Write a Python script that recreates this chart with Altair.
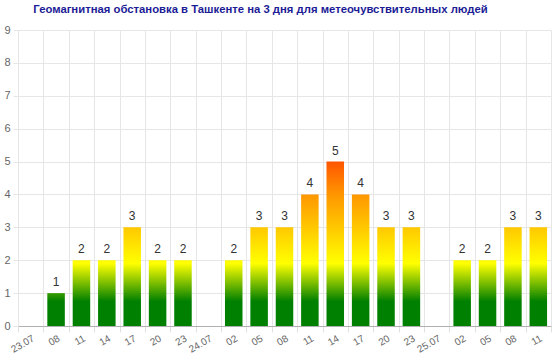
import altair as alt
import pandas as pd

labels = ["23.07", "08", "11", "14", "17", "20", "23", "24.07", "02", "05", "08",
          "11", "14", "17", "20", "23", "25.07", "02", "05", "08", "11"]
values = [0, 1, 2, 2, 3, 2, 2, 0, 2, 3, 3, 4, 5, 4, 3, 3, 0, 2, 2, 3, 3]

title_text = "Геомагнитная обстановка в Ташкенте на 3 дня для метеочувствительных людей"

# absolute colour ramp (level -> colour)
ramp = [(0.0, "#008000"), (0.75, "#008000"), (1.9, "#ffff00"),
        (3.0, "#ffc800"), (4.0, "#ff9600"), (5.0, "#ff5500")]


def hex2rgb(h):
    return tuple(int(h[i:i + 2], 16) for i in (1, 3, 5))


def rgb2hex(c):
    return "#%02x%02x%02x" % tuple(int(round(v)) for v in c)


def color_at(level):
    for (l0, c0), (l1, c1) in zip(ramp[:-1], ramp[1:]):
        if l0 <= level <= l1:
            t = 0 if l1 == l0 else (level - l0) / (l1 - l0)
            a, b = hex2rgb(c0), hex2rgb(c1)
            return rgb2hex([a[i] + (b[i] - a[i]) * t for i in range(3)])
    return ramp[-1][1]


def gradient_for(v):
    stops = [alt.GradientStop(color=c, offset=l / v) for l, c in ramp if l < v]
    stops.append(alt.GradientStop(color=color_at(v), offset=1))
    return alt.LinearGradient(gradient="linear", stops=stops, x1=0, x2=0, y1=1, y2=0)


keys = [f"{i:02d}|{l}" for i, l in enumerate(labels)]
df = pd.DataFrame({"key": keys, "value": values})

x_enc = alt.X(
    "key:O",
    sort=None,
    title=None,
    scale=alt.Scale(domain=keys, paddingInner=0, paddingOuter=0),
    axis=alt.Axis(
        labelExpr="split(datum.label, '|')[1]",
        labelAngle=-30,
        labelAlign="right",
        labelBaseline="top",
        labelPadding=1,
        tickBand="extent",
        grid=True,
        gridColor="#e6e6e6",
        tickColor="#e0e0e0",
        tickSize=6,
        domainColor="#b0b0b0",
        labelColor="#666666",
        labelFontSize=10,
        labelFont="Liberation Sans",
    ),
)
y_enc = alt.Y(
    "value:Q",
    title=None,
    scale=alt.Scale(domain=[0, 9], nice=False),
    axis=alt.Axis(
        values=list(range(10)),
        grid=True,
        gridColor="#e6e6e6",
        tickColor="#e6e6e6",
        tickSize=5,
        domainColor="#e6e6e6",
        labelColor="#666666",
        labelFontSize=11,
        labelFont="Liberation Sans",
        labelPadding=3,
    ),
)

base = alt.Chart(df).encode(x=x_enc, y=y_enc)

layers = []
for v in sorted(set(val for val in values if val > 0)):
    layers.append(
        base.transform_filter(alt.datum.value == v).mark_bar(
            width=alt.RelativeBandSize(0.69), color=gradient_for(v)
        )
    )

text = base.transform_filter(alt.datum.value > 0).mark_text(
    baseline="bottom", dy=-4, fontSize=12, color="#333333", font="Liberation Sans"
).encode(text="value:Q")

chart = alt.layer(*layers, text).properties(
    width=533,
    height=296,
    autosize=alt.AutoSizeParams(type="none"),
    padding={"left": 18, "top": 30, "right": 9, "bottom": 28},
    title=alt.TitleParams(
        title_text,
        fontSize=11.3,
        fontWeight="bold",
        color="#1c1c96",
        font="Liberation Sans",
        anchor="middle",
        dx=-24,
        offset=9,
    ),
).configure_view(stroke=None)

chart.save("out.html", embed_options={"renderer": "svg", "actions": False})
